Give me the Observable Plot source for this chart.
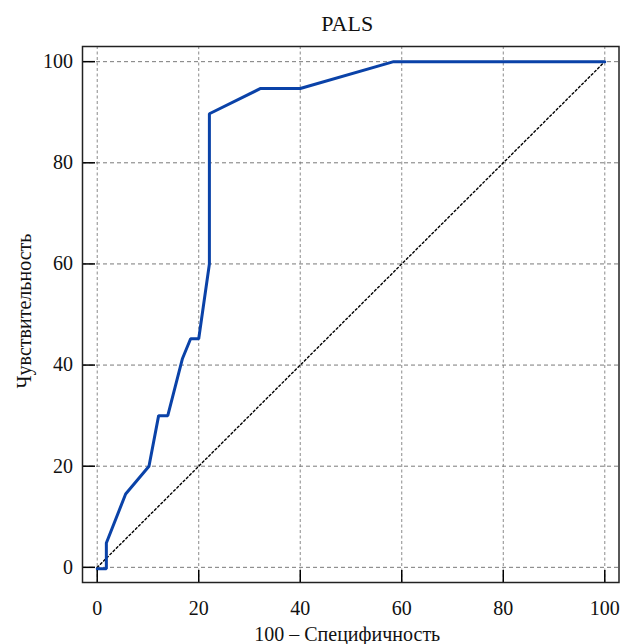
<!DOCTYPE html>
<html>
<head>
<meta charset="utf-8">
<script src="https://cdn.jsdelivr.net/npm/d3@7"></script>
<script src="https://cdn.jsdelivr.net/npm/@observablehq/plot@0.6"></script>
<style>
  html, body { margin: 0; padding: 0; background: #fff; }
  #chart svg { display: block; }
  #chart svg text { font-family: 'Liberation Serif', 'Times New Roman', serif; }
</style>
</head>
<body>
<div id="chart"></div>
<script>
// ROC curve data (100 − specificity, sensitivity)
const fpr = [0, 1.8, 1.8, 5.6, 10.2, 12.1, 13.9, 16.8, 18.4, 20.0, 22.1, 22.1, 32.2, 40.0, 58.4, 100];
const tpr = [-0.3, -0.3, 4.8, 14.5, 20.0, 30.0, 30.0, 41.3, 45.2, 45.2, 60.0, 89.7, 94.7, 94.7, 100, 100];
// reference diagonal
const diagX = [0, 100];
const diagY = [0, 100];
// tick values
const xTicks = [0, 20, 40, 60, 80, 100];
const yTicks = [0, 20, 40, 60, 80, 100];
const title = "PALS";
const xLabel = "100 – Специфичность";
const yLabel = "Чувствительность";

const roc = fpr.map((x, i) => ({x, y: tpr[i]}));
const diag = diagX.map((x, i) => ({x, y: diagY[i]}));

const W = 620, H = 644, mL = 82, mR = 1.5, mT = 46, mB = 62;
const frameW = W - mL - mR, frameH = H - mT - mB;
const font = "'Liberation Serif', 'Times New Roman', serif";

const plot = Plot.plot({
  width: W,
  height: H,
  marginLeft: mL,
  marginRight: mR,
  marginTop: mT,
  marginBottom: mB,
  style: {fontFamily: font, fontSize: "20px", color: "#111", background: "#fff"},
  x: {domain: [-2.9, 102.8], label: null},
  y: {domain: [-3, 103], label: null},
  marks: [
    Plot.gridX(xTicks, {stroke: "#8a8a8a", strokeOpacity: 1, strokeDasharray: "3,2.5"}),
    Plot.gridY(yTicks, {stroke: "#7a7a7a", strokeOpacity: 1, strokeDasharray: "4,3"}),
    Plot.line(diag, {x: "x", y: "y", stroke: "#000", strokeWidth: 1.4, strokeDasharray: "2,2.5"}),
    Plot.line(roc, {x: "x", y: "y", stroke: "#0a42a8", strokeWidth: 3, strokeLinejoin: "miter"}),
    Plot.ruleX(xTicks, {stroke: "#000", strokeWidth: 1.5, insetTop: frameH - 12}),
    Plot.ruleY(yTicks, {stroke: "#000", strokeWidth: 1.5, insetRight: frameW - 13}),
    Plot.axisX(xTicks, {tickSize: 0, tickPadding: 18, label: null, fontSize: 20, fontFamily: font, fontVariant: "normal"}),
    Plot.axisY(yTicks, {tickSize: 0, tickPadding: 9.5, label: null, fontSize: 20, fontFamily: font, fontVariant: "normal"}),
    Plot.frame({stroke: "#222", strokeWidth: 1.5})
  ]
});

document.getElementById("chart").appendChild(plot);

const svg = d3.select(plot);
const cx = mL + frameW / 2 - 3;
svg.append("text")
  .attr("x", cx).attr("y", 30.5)
  .attr("text-anchor", "middle")
  .style("font-family", font).style("font-size", "22px").attr("fill", "#111")
  .text(title);
svg.append("text")
  .attr("x", cx).attr("y", 641)
  .attr("text-anchor", "middle")
  .style("font-family", font).style("font-size", "20px").attr("fill", "#111")
  .text(xLabel);
svg.append("text")
  .attr("transform", `translate(31,${mT + frameH / 2 - 3}) rotate(-90)`)
  .attr("text-anchor", "middle")
  .style("font-family", font).style("font-size", "20px").attr("fill", "#111")
  .text(yLabel);
</script>
</body>
</html>
